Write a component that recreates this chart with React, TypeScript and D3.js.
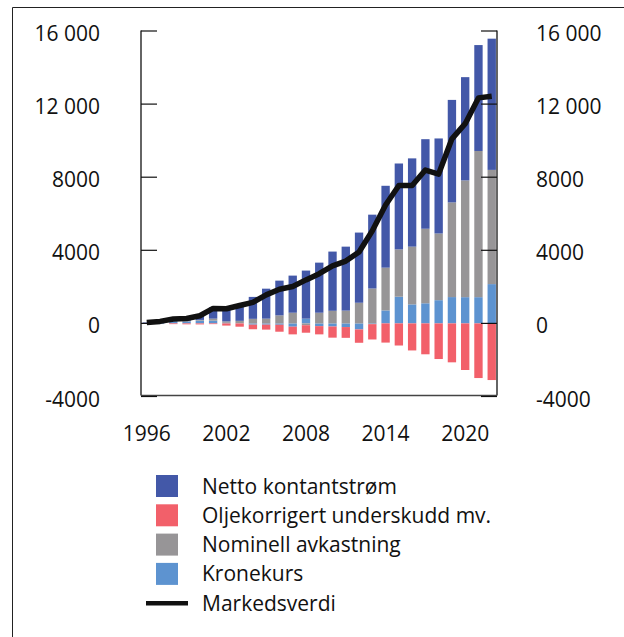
import React from "react";
import * as d3 from "d3";

const years = d3.range(1996, 2023);
const netto = [45, 110, 140, 150, 290, 620, 680, 900, 1200, 1640, 1900, 2030, 2630, 2740, 3240, 3500, 3840, 4040, 4480, 4700, 4830, 4900, 5200, 5610, 5650, 5795, 7180];
const olje = [0, 0, -40, -50, -55, -40, -120, -180, -250, -270, -380, -420, -410, -450, -610, -590, -730, -840, -1050, -1210, -1480, -1690, -1950, -2130, -2550, -2990, -3100];
const nominell = [5, 15, 25, 30, 40, 110, 80, 130, 250, 260, 440, 585, -100, 585, 690, 700, 1130, 1910, 2340, 2590, 3160, 4080, 3650, 5180, 6390, 8000, 6250];
const kronekurs = [-15, -35, 120, 110, 150, 150, 30, 10, -70, -70, -75, -180, 260, -150, -170, -200, -330, -40, 710, 1460, 1040, 1100, 1270, 1440, 1435, 1435, 2150];
const markedsverdi = [50, 110, 240, 270, 420, 820, 800, 980, 1150, 1560, 1870, 2020, 2380, 2720, 3150, 3410, 3910, 5070, 6480, 7550, 7550, 8390, 8170, 10100, 10930, 12340, 12430];

const yTicks = [-4000, 0, 4000, 8000, 12000, 16000];
const xTickYears = [1996, 2002, 2008, 2014, 2020];

const seriesKeys = ["kronekurs", "nominell", "olje", "netto"];
const colors: Record<string, string> = {
  netto: "#4358A8",
  olje: "#F2606A",
  nominell: "#979597",
  kronekurs: "#5D93D0",
};
const legendItems = [
  { key: "netto", label: "Netto kontantstrøm" },
  { key: "olje", label: "Oljekorrigert underskudd mv." },
  { key: "nominell", label: "Nominell avkastning" },
  { key: "kronekurs", label: "Kronekurs" },
  { key: "line", label: "Markedsverdi" },
];

const W = 624;
const H = 637;
const left = 141;
const right = 497;
const top = 30.5;
const bottom = 395.5;
const FONT = "'Open Sans', 'Noto Sans', sans-serif";
const FS = 21;

function fmt(v: number): string {
  const a = Math.abs(v);
  let s = String(a);
  if (a >= 10000) s = s.slice(0, s.length - 3) + " " + s.slice(s.length - 3);
  return (v < 0 ? "-" : "") + s;
}

export default function App() {
  const rows = years.map((yr, i) => ({
    year: yr,
    netto: netto[i],
    olje: olje[i],
    nominell: nominell[i],
    kronekurs: kronekurs[i],
  }));
  const stack = d3
    .stack<any>()
    .keys(seriesKeys)
    .offset(d3.stackOffsetDiverging);
  const stacked = stack(rows);

  const x = d3
    .scaleBand<number>()
    .domain(years)
    .range([left, right + 0.5])
    .paddingInner(0.37)
    .paddingOuter(0.12);
  const y = d3.scaleLinear().domain([-4000, 16000]).range([396.5, 31]);

  const line = d3
    .line<number>()
    .x((_, i) => (x(years[i]) as number) + x.bandwidth() / 2)
    .y((d) => y(d))
    .curve(d3.curveLinear);

  const legX = 156;
  const legY0 = 486;
  const legStep = 29.3;

  return (
    <svg
      width={W}
      height={H}
      style={{ position: "absolute", left: 0, top: 0, background: "#fff" }}
      fontFamily={FONT}
    >
      <rect x={0} y={0} width={W} height={H} fill="#fff" />
      {/* outer frame */}
      <line x1={12.5} y1={7.5} x2={W} y2={7.5} stroke="#222" strokeWidth={1} />
      <line x1={12.5} y1={7.5} x2={12.5} y2={H} stroke="#222" strokeWidth={1} />

      {/* bars */}
      {stacked.map((s) => (
        <g key={s.key} fill={colors[s.key]}>
          {s.map((d, i) => {
            const y0 = y(d[0]);
            const y1 = y(d[1]);
            const h = Math.abs(y0 - y1);
            if (h <= 0) return null;
            return (
              <rect
                key={i}
                x={x(years[i]) as number}
                y={Math.min(y0, y1)}
                width={x.bandwidth()}
                height={h}
              />
            );
          })}
        </g>
      ))}

      {/* market value line */}
      <path
        d={line(markedsverdi) || ""}
        fill="none"
        stroke="#111"
        strokeWidth={5.5}
        strokeLinejoin="round"
        strokeLinecap="butt"
      />

      {/* axes */}
      <line x1={left} y1={top} x2={left} y2={bottom} stroke="#111" strokeWidth={1.3} />
      <line x1={right} y1={top} x2={right} y2={bottom} stroke="#111" strokeWidth={1.3} />
      <line x1={left} y1={bottom} x2={right} y2={bottom} stroke="#444" strokeWidth={1.3} />
      {yTicks.map((t) => (
        <g key={t}>
          <line x1={left} x2={left + 16} y1={y(t)} y2={y(t)} stroke="#111" strokeWidth={1.2} />
          <line x1={right - 16} x2={right} y1={y(t)} y2={y(t)} stroke="#111" strokeWidth={1.2} />
          <text x={100} y={y(t) + 2.5} dy="0.36em" textAnchor="end" fontSize={FS} fill="#111">
            {fmt(t)}
          </text>
          <text x={536} y={y(t) + 2.5} dy="0.36em" textAnchor="start" fontSize={FS} fill="#111">
            {fmt(t)}
          </text>
        </g>
      ))}
      {xTickYears.map((yr) => (
        <text
          key={yr}
          x={(x(yr) as number) + x.bandwidth() / 2}
          y={441}
          textAnchor="middle"
          fontSize={FS}
          fill="#111"
        >
          {yr}
        </text>
      ))}

      {/* legend */}
      {legendItems.map((it, i) => {
        const cy = legY0 + i * legStep;
        return (
          <g key={it.key}>
            {it.key === "line" ? (
              <line x1={146} x2={188} y1={cy} y2={cy} stroke="#111" strokeWidth={4.5} />
            ) : (
              <rect x={legX} y={cy - 11} width={22} height={22} fill={colors[it.key]} />
            )}
            <text x={202} y={cy} dy="0.36em" fontSize={FS} fill="#111">
              {it.label}
            </text>
          </g>
        );
      })}
    </svg>
  );
}
